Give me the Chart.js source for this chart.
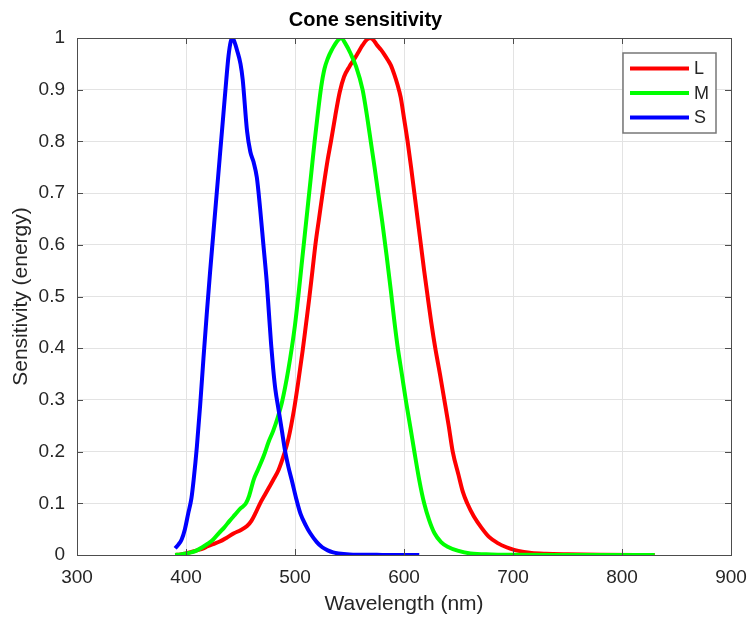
<!DOCTYPE html>
<html>
<head>
<meta charset="utf-8">
<title>Cone sensitivity</title>
<script src="https://cdn.jsdelivr.net/npm/chart.js@4.4.1/dist/chart.umd.min.js"></script>
<style>
    html, body { margin: 0; padding: 0; background: #fff; }
</style>
</head>
<body>
<canvas id="coneChart" width="749" height="618"></canvas>
<script>
// wavelengths (nm) and normalised energy sensitivity
const wavelengthL = [390, 395, 400, 405, 410, 416, 420, 425, 431, 437, 444, 450, 456, 460, 464, 468, 472, 476, 480, 485,
    490, 494, 499, 503, 507, 510, 513, 516, 519, 522, 526, 530, 533, 537, 541, 545, 550, 554, 558, 562,
    566, 569.5, 572, 575, 579, 582, 585, 588, 591, 594, 597, 600, 603.3, 606.5, 609.5, 612.5, 615.5, 618.5, 621.7, 625,
    628.7, 633, 637, 641, 644.7, 650, 654, 658, 664, 671, 678, 686, 694, 701, 710, 717, 730, 750, 780, 830];
const sensL = [0, 0.001, 0.003, 0.006, 0.009, 0.013, 0.017, 0.021, 0.026, 0.033, 0.042, 0.048, 0.056, 0.066, 0.082, 0.1, 0.115, 0.13, 0.145, 0.165,
    0.195, 0.225, 0.28, 0.335, 0.395, 0.445, 0.495, 0.55, 0.605, 0.65, 0.71, 0.765, 0.8, 0.85, 0.895, 0.925, 0.945, 0.958, 0.972, 0.986,
    0.997, 1.0, 0.996, 0.987, 0.977, 0.968, 0.958, 0.947, 0.93, 0.91, 0.885, 0.845, 0.8, 0.75, 0.7, 0.65, 0.6, 0.55, 0.5, 0.45,
    0.4, 0.35, 0.3, 0.25, 0.2, 0.155, 0.122, 0.1, 0.075, 0.053, 0.035, 0.023, 0.015, 0.01, 0.006, 0.004, 0.0025, 0.0015, 0.0006, 0];

const wavelengthM = [390, 395, 400, 405, 410, 415, 420, 425, 430, 435, 440, 445, 450, 455, 458, 462, 466, 471, 476, 480,
    484, 488, 491, 494, 497, 500, 503, 506, 509, 512, 515, 518, 521, 524, 527, 530, 534, 538, 542.5, 546,
    551, 556, 562, 566, 569.5, 573, 576.3, 580, 584, 588, 591, 594, 598, 602, 606, 609.5, 614, 618.5, 623, 628,
    634, 640, 650, 661, 680, 700, 750, 830];
const sensM = [0, 0.001, 0.003, 0.005, 0.009, 0.015, 0.022, 0.03, 0.042, 0.053, 0.066, 0.078, 0.09, 0.1, 0.115, 0.145, 0.165, 0.19, 0.22, 0.24,
    0.265, 0.295, 0.325, 0.36, 0.4, 0.445, 0.5, 0.56, 0.62, 0.68, 0.74, 0.8, 0.855, 0.905, 0.94, 0.96, 0.978, 0.992, 1.0, 0.99,
    0.97, 0.945, 0.9, 0.85, 0.8, 0.75, 0.7, 0.645, 0.58, 0.51, 0.455, 0.405, 0.35, 0.295, 0.245, 0.2, 0.145, 0.1, 0.068, 0.042,
    0.025, 0.016, 0.008, 0.003, 0.001, 0.0005, 0.0001, 0];

const wavelengthS = [390, 393, 396, 399, 402, 405, 407, 410, 413, 416, 419, 422, 425, 428, 431, 434, 437, 439, 441, 442.5,
    444, 447, 450, 452, 456, 459, 462, 465, 468, 471, 474, 476, 478, 480, 482, 485, 488, 491, 494, 497,
    501, 505, 510, 514, 520, 525, 530, 535, 540, 550, 560, 580, 600, 614];
const sensS = [0.013, 0.02, 0.03, 0.05, 0.08, 0.11, 0.145, 0.21, 0.29, 0.38, 0.465, 0.545, 0.62, 0.695, 0.77, 0.845, 0.92, 0.965, 0.993, 1.0,
    0.995, 0.975, 0.95, 0.92, 0.82, 0.78, 0.76, 0.73, 0.67, 0.6, 0.53, 0.47, 0.41, 0.36, 0.32, 0.28, 0.24, 0.2, 0.17, 0.145,
    0.11, 0.08, 0.057, 0.042, 0.025, 0.015, 0.009, 0.005, 0.003, 0.001, 0.0005, 0.0002, 0.0001, 0];

const xTicks = [300, 400, 500, 600, 700, 800, 900];
const yTicks = [0, 0.1, 0.2, 0.3, 0.4, 0.5, 0.6, 0.7, 0.8, 0.9, 1];

const FONT = "'Liberation Sans', Arial, Helvetica, sans-serif";
const TEXT = "#262626";
const GRID = "#e3e3e3";

function points(xs, ys) {
    return xs.map((x, i) => ({ x: x, y: ys[i] }));
}

// MATLAB-like box with inward ticks, plus the boxed legend in the upper right
const matlabBox = {
    id: "matlabBox",
    afterDatasetsDraw(chart) {
        const ctx = chart.ctx;
        const a = chart.chartArea;
        const sx = chart.scales.x, sy = chart.scales.y;
        ctx.save();
        ctx.strokeStyle = "#4d4d4d";
        ctx.lineWidth = 1;
        ctx.beginPath();
        xTicks.forEach(v => {
            const px = Math.round(sx.getPixelForValue(v)) + 0.5;
            ctx.moveTo(px, a.bottom); ctx.lineTo(px, a.bottom - 6);
            ctx.moveTo(px, a.top); ctx.lineTo(px, a.top + 6);
        });
        yTicks.forEach(v => {
            const py = Math.round(sy.getPixelForValue(v)) + 0.5;
            ctx.moveTo(a.left, py); ctx.lineTo(a.left + 6, py);
            ctx.moveTo(a.right, py); ctx.lineTo(a.right - 6, py);
        });
        ctx.stroke();
        ctx.strokeRect(Math.round(a.left) + 0.5, Math.round(a.top) + 0.5,
            Math.round(a.right - a.left), Math.round(a.bottom - a.top));
        ctx.restore();
    },
    afterDraw(chart) {
        const ctx = chart.ctx;
        const a = chart.chartArea;
        const bx = a.right - 108, by = a.top + 15, bw = 93, bh = 80;
        ctx.save();
        ctx.fillStyle = "#fff";
        ctx.fillRect(bx, by, bw, bh);
        ctx.strokeStyle = "#777";
        ctx.lineWidth = 1.5;
        ctx.strokeRect(bx, by, bw, bh);
        ctx.font = "18px " + FONT;
        ctx.textBaseline = "middle";
        ctx.textAlign = "left";
        chart.data.datasets.forEach((ds, i) => {
            const y = by + 15.5 + i * 24.5;
            ctx.strokeStyle = ds.borderColor;
            ctx.lineWidth = 4;
            ctx.beginPath();
            ctx.moveTo(bx + 7, y);
            ctx.lineTo(bx + 66, y);
            ctx.stroke();
            ctx.fillStyle = TEXT;
            ctx.fillText(ds.label, bx + 71, y + 1);
        });
        ctx.restore();
    }
};

new Chart(document.getElementById("coneChart"), {
    type: "line",
    data: {
        datasets: [
            { label: "L", data: points(wavelengthL, sensL), borderColor: "#ff0000", order: 3 },
            { label: "M", data: points(wavelengthM, sensM), borderColor: "#00ff00", order: 2 },
            { label: "S", data: points(wavelengthS, sensS), borderColor: "#0000ff", order: 1 }
        ]
    },
    options: {
        responsive: false,
        animation: false,
        layout: { padding: { left: 0, right: 18, top: 0, bottom: 0 } },
        elements: {
            point: { radius: 0 },
            line: { borderWidth: 4, cubicInterpolationMode: "monotone", fill: false }
        },
        plugins: {
            legend: { display: false },
            tooltip: { enabled: false },
            title: {
                display: true,
                text: "Cone sensitivity",
                color: "#000",
                font: { family: FONT, size: 20, weight: "bold", lineHeight: 1 },
                padding: { top: 10, bottom: 8 }
            }
        },
        scales: {
            x: {
                type: "linear",
                min: 300,
                max: 900,
                afterBuildTicks: s => { s.ticks = xTicks.map(v => ({ value: v })); },
                afterFit: s => { s.height = 63; s.paddingLeft = 0; s.paddingRight = 0; },
                grid: { color: GRID, drawTicks: false },
                border: { display: false },
                ticks: {
                    color: TEXT, padding: 11, maxRotation: 0, autoSkip: false,
                    font: { family: FONT, size: 19 },
                    callback: v => String(v)
                },
                title: {
                    display: true, text: "Wavelength (nm)", color: TEXT,
                    font: { family: FONT, size: 21, lineHeight: 1 },
                    padding: { top: 0, bottom: 3 }
                }
            },
            y: {
                type: "linear",
                min: 0,
                max: 1,
                afterBuildTicks: s => { s.ticks = yTicks.map(v => ({ value: v })); },
                afterFit: s => { s.width = 77; s.paddingTop = 0; s.paddingBottom = 0; },
                grid: { color: GRID, drawTicks: false },
                border: { display: false },
                ticks: {
                    color: TEXT, padding: 12, autoSkip: false,
                    font: { family: FONT, size: 19 },
                    callback: v => String(v)
                },
                title: {
                    display: true, text: "Sensitivity (energy)", color: TEXT,
                    font: { family: FONT, size: 21, lineHeight: 1 },
                    padding: { top: 11, bottom: 0 }
                }
            }
        }
    },
    plugins: [matlabBox]
});
</script>
</body>
</html>
